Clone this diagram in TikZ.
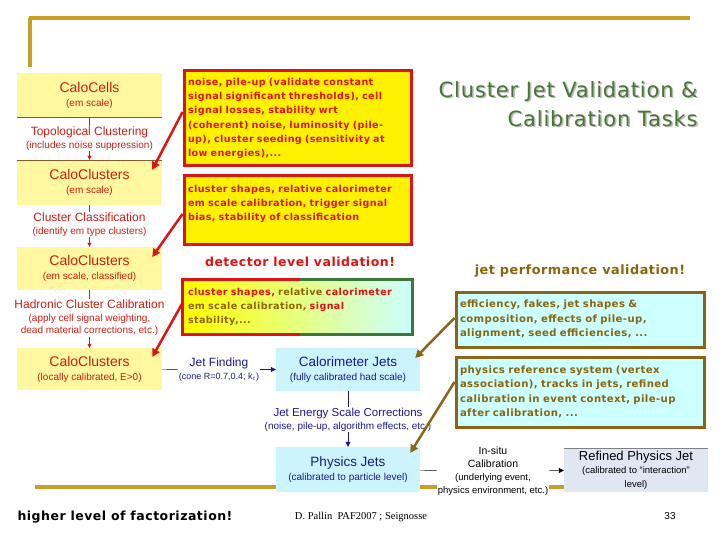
\documentclass[tikz,border=0pt]{standalone}
\usepackage{fontspec}
\setmainfont{Liberation Sans}
\newfontfamily\comic[LetterSpace=4]{DejaVu Sans}
\newfontfamily\slidefont{Liberation Serif}
\usetikzlibrary{arrows.meta,positioning,calc}
\definecolor{calofill}{RGB}{255,248,160}
\definecolor{calotext}{RGB}{200,30,20}
\definecolor{jetfill}{RGB}{204,244,252}
\definecolor{jettext}{RGB}{25,25,140}
\definecolor{reffill}{RGB}{224,231,243}
\definecolor{gold}{RGB}{200,160,40}
\definecolor{boxred}{RGB}{220,20,20}
\definecolor{boxbrown}{RGB}{140,100,20}
\definecolor{cyanfill}{RGB}{204,255,255}
\definecolor{titlegreen}{RGB}{72,118,52}
\definecolor{boxgreen}{RGB}{60,120,60}
\definecolor{olivetext}{RGB}{140,100,10}
\newcommand{\bigtxt}{\fontsize{12}{13}\selectfont}
\newcommand{\smalltxt}{\fontsize{10}{12}\selectfont}
\newcommand{\boxtxt}{\fontsize{14}{14}\selectfont}

\begin{document}
\begin{tikzpicture}[x=1pt,y=-1pt]
       \tikzset{calo/.style={rectangle, fill=calofill, minimum width=145pt,
                text=calotext, align=center, inner sep=0pt,
                font=\fontsize{10}{14}\selectfont}}
       \tikzset{process/.style={align=center, text=calotext, inner sep=1pt,
                font=\fontsize{10}{12.5}\selectfont}}
       \tikzset{jet/.style={rectangle, fill=jetfill, minimum width=144pt,
                text=jettext, align=center, inner sep=0pt,
                font=\fontsize{10}{14}\selectfont}}
       \tikzset{jetstep/.style={align=center, text=jettext, inner sep=1pt,
                font=\fontsize{10}{13}\selectfont}}
       \tikzset{callout/.style={rectangle, draw=boxred, line width=3pt,
                fill=yellow, text=boxred, minimum width=227pt, align=left,
                text width=219pt, inner xsep=4pt,
                font=\comic\bfseries\fontsize{9.6}{14.3}\selectfont}}
       \tikzset{jetcallout/.style={rectangle, draw=boxbrown, line width=3pt,
                fill=cyanfill, text=olivetext, minimum width=248pt, align=left,
                text width=240pt, inner xsep=4pt,
                font=\comic\bfseries\fontsize{10.1}{14.4}\selectfont}}
       \tikzset{redarrow/.style={draw=boxred, line width=2.5pt,
                -{Triangle[length=8pt,width=8pt]}}}
       \tikzset{brownarrow/.style={draw=boxbrown, line width=2.5pt,
                -{Triangle[length=8pt,width=8pt]}}}

       \useasboundingbox (0,0) rectangle (720,540);

       % slide frame
       \draw[gold, line width=3.5pt] (29,18) -- (690,18);
       \draw[gold, line width=3.5pt] (30,18) -- (30,67);
       \draw[gold, line width=3.5pt] (35,487) -- (565,487);

       % calorimeter chain
       \node[calo, minimum height=44pt] (calocells) at (89.5,95)
            {{\boxtxt CaloCells}\\(em scale)};
       \node[process] (topo) at (89.5,138.5)
            {{\bigtxt Topological Clustering}\\(includes noise suppression)};
       \node[calo, minimum height=45pt] (caloclus1) at (89.5,182.5)
            {{\boxtxt CaloClusters}\\(em scale)};
       \node[process] (classif) at (89.5,224.5)
            {{\bigtxt Cluster Classification}\\(identify em type clusters)};
       \node[calo, minimum height=43pt] (caloclus2) at (89.5,268.5)
            {{\boxtxt CaloClusters}\\(em scale, classified)};
       \node[process] (hadcal) at (89.5,318)
            {{\bigtxt Hadronic Cluster Calibration}\\(apply cell signal weighting,\\dead material corrections, etc.)};
       \node[calo, minimum height=42pt] (caloclus3) at (89.5,369)
            {{\boxtxt CaloClusters}\\(locally calibrated, E>0)};

       \draw[brown!70!black, thin] (calocells.south west) -- (calocells.south east);
       \draw[brown!70!black, thin] (caloclus1.north west) -- (caloclus1.north east);

       \draw[calotext](calocells) -- (topo);
       \draw[calotext, -{Triangle[length=4pt,width=4pt]}](topo) -- (caloclus1);
       \draw[calotext](caloclus1) -- (classif);
       \draw[calotext, -{Triangle[length=4pt,width=4pt]}](classif) -- (caloclus2);
       \draw[calotext](caloclus2) -- (hadcal);
       \draw[calotext, -{Triangle[length=4pt,width=4pt]}](hadcal) -- (caloclus3);

       % jet chain
       \node[jetstep] (jetfind) at (219,369.5)
            {{\fontsize{12}{13}\selectfont Jet Finding}\\{\fontsize{9}{11}\selectfont (cone R=0.7,0.4; k$_t$)}};
       \node[jet, minimum height=43pt] (calojets) at (348,369.5)
            {{\fontsize{13.5}{14}\selectfont Calorimeter Jets}\\(fully calibrated had scale)};
       \node[jetstep] (jes) at (348,419.5)
            {{\fontsize{11.5}{13}\selectfont Jet Energy Scale Corrections}\\(noise, pile-up, algorithm effects, etc.)};
       \node[jet, minimum height=45pt] (physjets) at (348,469.5)
            {{\fontsize{13.5}{14}\selectfont Physics Jets}\\(calibrated to particle level)};
       \node[align=center, fill=white, inner sep=1pt, font=\fontsize{10.5}{13}\selectfont] (insitu) at (493,471)
            {In-situ\\Calibration\\{\fontsize{9.5}{12}\selectfont (underlying event,}\\{\fontsize{9.5}{12}\selectfont physics environment, etc.)}};
       \node[rectangle, fill=reffill, minimum width=144pt, minimum height=44pt, align=center,
             inner sep=0pt, font=\fontsize{9.5}{13.5}\selectfont] (refined) at (636,470)
            {{\fontsize{13}{14}\selectfont Refined Physics Jet}\\(calibrated to “interaction”\\level)};
       \draw[gray, thin] (refined.north west) -- (refined.north east);

       \draw[black](caloclus3) -- (jetfind);
       \draw[jettext, -{Triangle[length=5pt,width=5pt]}](jetfind) -- (calojets);
       \draw[jettext](calojets) -- (jes);
       \draw[jettext, -{Triangle[length=5pt,width=5pt]}](jes) -- (physjets);
       \draw[black](physjets) -- (insitu);
       \draw[black, -{Triangle[length=5pt,width=5pt]}](insitu) -- (refined);

       % validation callouts
       \node[callout, minimum height=95pt] (valbox1) at (297.5,118.5)
            {noise, pile-up (validate constant\\signal significant thresholds), cell\\signal losses, stability wrt\\(coherent) noise, luminosity (pile-\\up), cluster seeding (sensitivity at\\low energies),...};
       \node[callout, minimum height=68pt] (valbox2) at (297.5,210)
            {cluster shapes, relative calorimeter\\em scale calibration, trigger signal\\bias, stability of classification\\\mbox{}};
       \node[text=boxred, font=\comic\bfseries\fontsize{12.5}{13}\selectfont] (detlabel) at (300,262)
            {detector level validation!};
       \node[callout, draw=none, left color=yellow, right color=cyanfill, minimum height=52pt] (valbox3) at (297.5,307)
            {cluster shapes, \textcolor{olivetext}{relative} calorimeter\\\textcolor{olivetext}{em scale calibration,} signal\\\textcolor{olivetext}{stability,...}};
       \draw[boxred, line width=3pt] ([xshift=2pt]valbox3.north) -- (valbox3.north west) -- (valbox3.south west) -- ([xshift=2pt]valbox3.south);
       \draw[boxgreen, line width=3pt] ([xshift=2pt]valbox3.north) -- (valbox3.north east) -- (valbox3.south east) -- ([xshift=2pt]valbox3.south);

       \draw[redarrow]([yshift=6.5pt]valbox1.west) -- ([xshift=-10pt,yshift=12.5pt]caloclus1.east);
       \draw[redarrow]([yshift=-4pt]valbox2.west) -- ([xshift=-10pt,yshift=11.5pt]caloclus2.east);
       \draw[redarrow]([yshift=4pt]valbox3.west) -- ([xshift=-10pt,yshift=12pt]caloclus3.east);

       % title
       \node[anchor=east, align=right, text=gray!55, font=\comic\fontsize{21}{29}\selectfont] (titleshadow) at (702.5,105.5)
            {Cluster Jet Validation \&\\Calibration Tasks};
       \node[anchor=east, align=right, text=titlegreen, font=\comic\fontsize{21}{29}\selectfont] (title) at (701,104)
            {Cluster Jet Validation \&\\Calibration Tasks};

       % jet performance callouts
       \node[text=olivetext, font=\comic\bfseries\fontsize{12.8}{13}\selectfont] (jetlabel) at (580,271)
            {jet performance validation!};
       \node[jetcallout, minimum height=55pt] (jetbox1) at (580,319.5)
            {efficiency, fakes, jet shapes \&\\composition, effects of pile-up,\\alignment, seed efficiencies, ...};
       \node[jetcallout, minimum height=70pt] (jetbox2) at (580,392)
            {physics reference system (vertex\\association), tracks in jets, refined\\calibration in event context, pile-up\\after calibration, ...};

       \draw[brownarrow]([yshift=1.5pt]jetbox1.west) -- ([xshift=-5pt,yshift=11.5pt]calojets.east);
       \draw[brownarrow]([yshift=10pt]jetbox2.west) -- ([xshift=-10pt,yshift=16.5pt]physjets.east);

       % footer
       \node[font=\comic\bfseries\fontsize{12.5}{13}\selectfont] (factor) at (125,517) {higher level of factorization!};
       \node[font=\slidefont\fontsize{10.5}{12}\selectfont] (credit) at (361,517) {D. Pallin\ \ PAF2007 ; Seignosse};
       \node[font=\fontsize{10}{12}\selectfont] (pagenum) at (670,516) {33};

   \end{tikzpicture}
\end{document}
